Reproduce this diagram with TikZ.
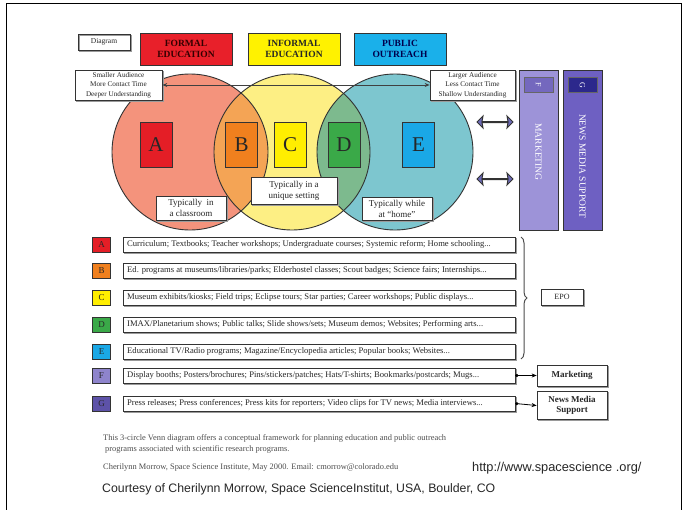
\documentclass[tikz,border=0pt]{standalone}
\usepackage{fontspec}
\setmainfont{Liberation Serif}
\newfontfamily\arialfont{Liberation Sans}
\usetikzlibrary{shapes.arrows,decorations.pathreplacing,arrows.meta}
\definecolor{hred}{HTML}{E8202A}
\definecolor{hyel}{HTML}{FFF200}
\definecolor{hblue}{HTML}{1AB0EA}
\definecolor{cred}{HTML}{F4937C}
\definecolor{cyel}{HTML}{FDEF84}
\definecolor{cblue}{HTML}{7DC6CF}
\definecolor{corange}{HTML}{F4A455}
\definecolor{cgreen}{HTML}{7DBA8E}
\definecolor{lA}{HTML}{E41E26}
\definecolor{lB}{HTML}{F0801E}
\definecolor{lC}{HTML}{FFEE00}
\definecolor{lD}{HTML}{3AA948}
\definecolor{lE}{HTML}{1AA8E6}
\definecolor{lF}{HTML}{8E84CC}
\definecolor{lG}{HTML}{5D52A8}
\definecolor{mkt}{HTML}{9D93D8}
\definecolor{mktbox}{HTML}{7468BE}
\definecolor{nws}{HTML}{6E60C2}
\definecolor{nwsbox}{HTML}{2C288C}
\definecolor{arr}{HTML}{6E6CB8}
\definecolor{edge}{HTML}{333333}
\definecolor{shad}{HTML}{9A9A9A}
\tikzset{
  box/.style={draw=edge, line width=0.7pt, inner sep=0pt, align=center, text=black!85},
  shadowed/.style={box, fill=white, preaction={draw=shad, fill=shad, line width=0.7pt, transform canvas={shift={(1.2pt,-1.2pt)}}}},
  hdr/.style={box, minimum width=92pt, minimum height=32pt, font=\bfseries\fontsize{9.5}{11}\selectfont},
  info/.style={shadowed, minimum height=30pt, font=\fontsize{7.2}{9.5}\selectfont},
  letbox/.style={box, minimum width=32pt, minimum height=45pt, font=\fontsize{21}{21}\selectfont},
  tbox/.style={shadowed, font=\fontsize{9}{11}\selectfont},
  sq/.style={box, minimum width=18pt, minimum height=15pt, font=\fontsize{9}{9}\selectfont},
  row/.style={shadowed, minimum width=392pt, minimum height=15pt},
  rowtext/.style={anchor=west, inner sep=0pt, font=\fontsize{8.6}{8.6}\selectfont, text=black!85},
  dblarr/.style={double arrow, draw=edge, fill=arr, line width=1pt, minimum height=36pt, minimum width=11pt, double arrow head extend=5.5pt, double arrow head indent=1pt, inner sep=0pt},
  bar/.style={draw=edge, line width=0.7pt, minimum width=39pt, minimum height=160pt, inner sep=0pt},
  barlabel/.style={rotate=-90, text=white, font=\fontsize{9.5}{9.5}\selectfont},
  topbox/.style={draw=black!60, line width=0.6pt, minimum width=29pt, minimum height=15pt, inner sep=0pt, text=white, font=\fontsize{8}{8}\selectfont},
  circ/.style={draw=edge, line width=0.9pt},
  caption/.style={anchor=west, inner sep=0pt, font=\fontsize{8.4}{8.4}\selectfont, text=black!70},
  sans/.style={anchor=west, inner sep=0pt, font=\arialfont\fontsize{12.3}{12.3}\selectfont, text=black!85}
}
\begin{document}
\begin{tikzpicture}[x=1pt,y=-1pt]
\useasboundingbox (0,0) rectangle (684,509);
\draw[line width=1pt] (6,515) -- (6,3) -- (681,3) -- (681,515);

% header
\node[box, minimum width=52pt, minimum height=16pt, font=\fontsize{7.5}{7.5}\selectfont, preaction={draw=shad, transform canvas={shift={(1pt,-1pt)}}}] (diag) at (104,42) {Diagram};
\node[hdr, fill=hred, text=black!80!red] (formal) at (186,49) {FORMAL\\EDUCATION};
\node[hdr, fill=hyel] (informal) at (294,49) {INFORMAL\\EDUCATION};
\node[hdr, fill=hblue, text=blue!30!black] (public) at (400,49) {PUBLIC\\OUTREACH};

% circles
\fill[cred] (190,152) circle[radius=78pt];
\fill[cyel] (292,152) circle[radius=78pt];
\fill[cblue] (395,152) circle[radius=78pt];
\begin{scope}
  \clip (190,152) circle[radius=78pt];
  \fill[corange] (292,152) circle[radius=78pt];
\end{scope}
\begin{scope}
  \clip (292,152) circle[radius=78pt];
  \fill[cgreen] (395,152) circle[radius=78pt];
\end{scope}
\draw[circ] (190,152) circle[radius=78pt];
\draw[circ] (292,152) circle[radius=78pt];
\draw[circ] (395,152) circle[radius=78pt];

% info boxes and arrow
\node[info, minimum width=87pt] (smaller) at (118.5,85) {Smaller Audience\\More Contact Time\\Deeper Understanding};
\node[info, minimum width=85pt] (larger) at (472.5,85) {Larger Audience\\Less Contact Time\\Shallow Understanding};
\draw[{Stealth[length=5pt,width=4pt]}-{Stealth[length=5pt,width=4pt]}, line width=0.9pt, draw=black!75] (smaller.east) -- (larger.west);

% letter boxes
\node[letbox, fill=lA] (A) at (156,145) {A};
\node[letbox, fill=lB] (B) at (241.5,145) {B};
\node[letbox, fill=lC] (C) at (290,145) {C};
\node[letbox, fill=lD] (D) at (344,145) {D};
\node[letbox, fill=lE] (E) at (418.5,145) {E};

% setting labels
\node[tbox, minimum width=70pt, minimum height=24pt] (classroom) at (191,208) {Typically\ \ in\\a classroom};
\node[tbox, minimum width=86pt, minimum height=27pt] (unique) at (294,190.5) {Typically in a\\unique setting};
\node[tbox, minimum width=70pt, minimum height=23pt] (home) at (397,208.5) {Typically while\\at ``home''};

% purple double arrows
\node[dblarr] (arr1) at (495,122) {};
\node[dblarr] (arr2) at (495,179) {};

% bars
\node[bar, fill=mkt] (mktbar) at (538.5,150) {};
\node[bar, fill=nws] (nwsbar) at (582.5,150) {};
\node[topbox, fill=mktbox] (Ftop) at (538.5,85) {\rotatebox{-90}{F}};
\node[topbox, fill=nwsbox] (Gtop) at (582.5,85) {\rotatebox{-90}{G}};
\node[barlabel] (mktlabel) at (538.5,152) {MARKETING};
\node[barlabel] (nwslabel) at (582.5,166) {NEWS MEDIA SUPPORT};

% rows
\foreach \L/\y/\c/\t in {
  A/244.5/lA/{Curriculum; Textbooks; Teacher workshops; Undergraduate courses; Systemic reform; Home schooling...},
  B/270.5/lB/{Ed. programs at museums/libraries/parks; Elderhostel classes; Scout badges; Science fairs; Internships...},
  C/297.5/lC/{Museum exhibits/kiosks; Field trips; Eclipse tours; Star parties; Career workshops; Public displays...},
  D/324.5/lD/{IMAX/Planetarium shows; Public talks; Slide shows/sets; Museum demos; Websites; Performing arts...},
  E/351.5/lE/{Educational TV/Radio programs; Magazine/Encyclopedia articles; Popular books; Websites...},
  F/375.5/lF/{Display booths; Posters/brochures; Pins/stickers/patches; Hats/T-shirts; Bookmarks/postcards; Mugs...},
  G/403.5/lG/{Press releases; Press conferences; Press kits for reporters; Video clips for TV news; Media interviews...}}{
  \node[sq, fill=\c] (sq\L) at (101.5,\y) {\L};
  \node[row] (row\L) at (319,\y) {};
  \node[rowtext] (txt\L) at (127,\y) {\t};
}

% brace and EPO
\draw[decorate, decoration={brace, amplitude=6pt}, line width=1pt, draw=black!70] (521,237) -- (521,359);
\node[shadowed, minimum width=42pt, minimum height=16pt, font=\fontsize{8}{8}\selectfont] (epo) at (562,297) {EPO};

% marketing / news media
\node[shadowed, minimum width=70pt, minimum height=21pt, font=\bfseries\fontsize{9}{10}\selectfont] (mkt) at (572,375.5) {Marketing};
\node[shadowed, minimum width=70pt, minimum height=28pt, font=\bfseries\fontsize{9}{10}\selectfont] (news) at (572,405.5) {News Media\\Support};
\draw[{Circle[length=3pt]}-{Stealth[length=5pt,width=4pt]}, line width=0.8pt] (rowF.east) -- (mkt.west);
\draw[{Circle[length=3pt]}-{Stealth[length=5pt,width=4pt]}, line width=0.8pt] (rowG.east) -- (news.west);

% caption
\node[caption] (cap1) at (103,438) {This 3-circle Venn diagram offers a conceptual framework for planning education and public outreach};
\node[caption] (cap2) at (105,449) {programs associated with scientific research programs.};
\node[caption] (cap3) at (103,467) {Cherilynn Morrow, Space Science Institute, May 2000. Email: cmorrow@colorado.edu};
\node[sans, font=\arialfont\fontsize{12.8}{12.8}\selectfont] (url) at (472,468) {http://www.spacescience .org/};
\node[sans] (courtesy) at (102,489) {Courtesy of Cherilynn Morrow, Space ScienceInstitut, USA, Boulder, CO};
\end{tikzpicture}
\end{document}
